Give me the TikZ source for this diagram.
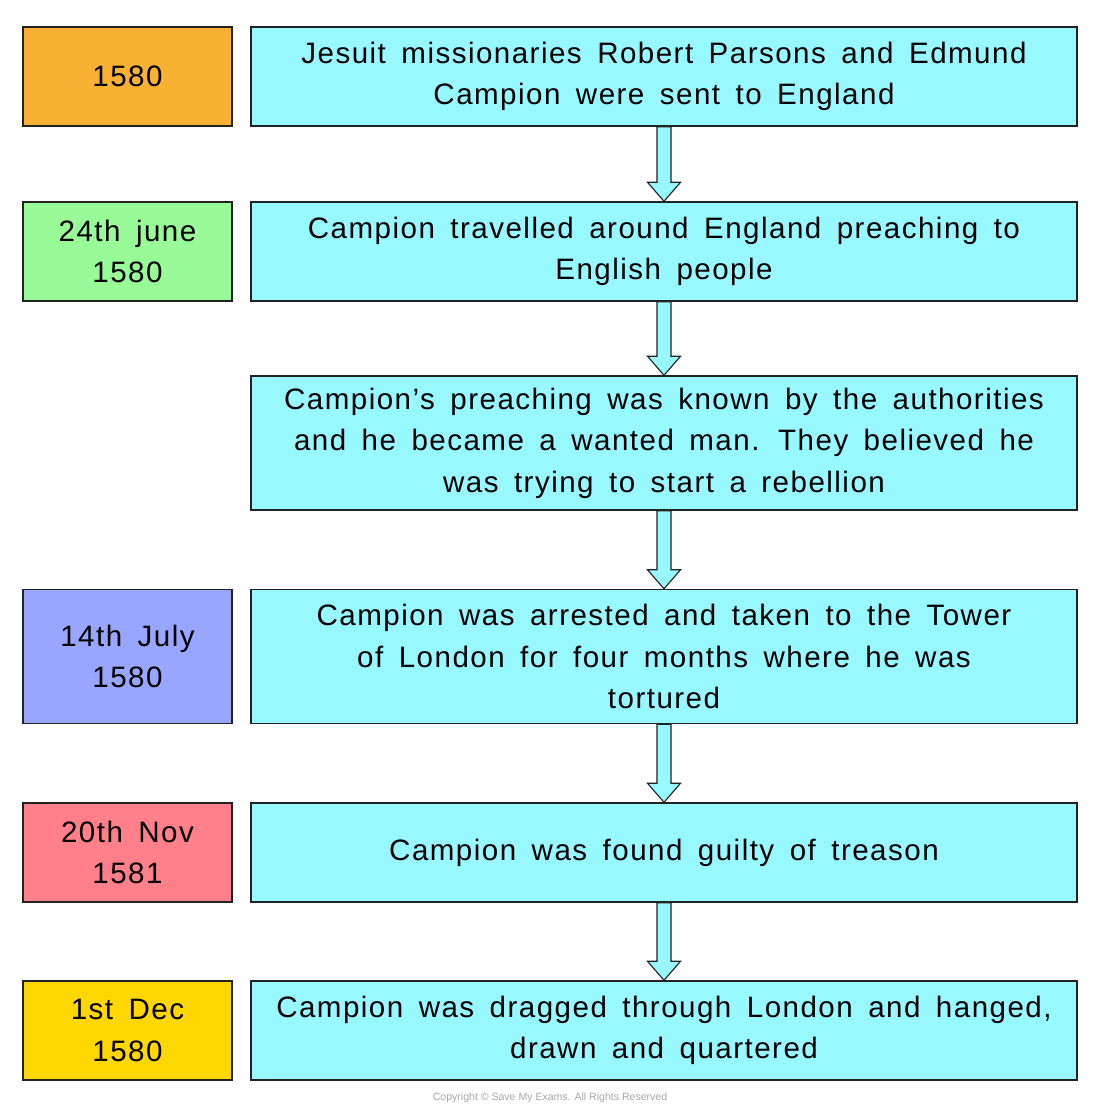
\documentclass[tikz,border=0pt]{standalone}
\usepackage{fontspec}
\setmainfont{Liberation Sans}[LetterSpace=5, WordSpace=1.6]
\newfontfamily\copyfont{Liberation Sans}
\usetikzlibrary{calc}

\definecolor{yearorange}{HTML}{F8B133}
\definecolor{yeargreen}{HTML}{98FB98}
\definecolor{yearblue}{HTML}{98A6FF}
\definecolor{yearpink}{HTML}{FF808B}
\definecolor{yearyellow}{HTML}{FFD700}
\definecolor{eventcyan}{HTML}{98F8FF}
\definecolor{edgegray}{HTML}{222222}

% block arrow from the bottom of one box to the top of the next
\newcommand{\flowdown}[2]{%
    \draw[flowarrow] ($(#1.south)+(-7,0)$) -- ($(#2.north)+(-7,-19)$)
        -- ++(-9.5,0) -- (#2.north) -- ($(#2.north)+(16.5,-19)$)
        -- ++(-9.5,0) -- ($(#1.south)+(7,0)$) -- cycle;%
}

\begin{document}
\begin{tikzpicture}[%
        x = 0.025cm,
        y = -0.025cm,
        line width = 1pt,
        datebox/.style = {%
            draw = edgegray,
            minimum width = 5.225cm,
            minimum height = 2.475cm,
            align = center,
            inner sep = 0pt,
            font = \fontsize{21}{29.5}\selectfont
        },
        eventbox/.style = {%
            draw = edgegray,
            fill = eventcyan,
            minimum width = 20.65cm,
            minimum height = 2.475cm,
            align = center,
            inner sep = 0pt,
            font = \fontsize{21}{29.5}\selectfont
        },
        tallbox/.style = {%
            minimum height = 3.35cm
        },
        flowarrow/.style = {%
            fill = eventcyan,
            draw = edgegray,
            line width = 0.8pt,
            line join = miter
        }
    ]
        \useasboundingbox (0, 0) rectangle (1100, 1115);
        \node[datebox, fill = yearorange] (d1) at (127.5, 76.5) {1580};
        \node[datebox, fill = yeargreen] (d2) at (127.5, 251.5) {24th june\\1580};
        \node[datebox, fill = yearblue, tallbox] (d4) at (127.5, 656.5) {14th July\\1580};
        \node[datebox, fill = yearpink] (d5) at (127.5, 852.5) {20th Nov\\1581};
        \node[datebox, fill = yearyellow] (d6) at (127.5, 1030.5) {1st Dec\\1580};
        \node[eventbox] (e1) at (664, 76.5)
            {Jesuit missionaries Robert Parsons and Edmund\\Campion were sent to England};
        \node[eventbox] (e2) at (664, 251.5)
            {Campion travelled around England preaching to\\English people};
        \node[eventbox, tallbox] (e3) at (664, 443)
            {Campion’s preaching was known by the authorities\\and he became a wanted man. They believed he\\was trying to start a rebellion};
        \node[eventbox, tallbox] (e4) at (664, 656.5)
            {Campion was arrested and taken to the Tower\\of London for four months where he was\\tortured};
        \node[eventbox] (e5) at (664, 852.5)
            {Campion was found guilty of treason};
        \node[eventbox] (e6) at (664, 1030.5)
            {Campion was dragged through London and hanged,\\drawn and quartered};
        \flowdown{e1}{e2}
        \flowdown{e2}{e3}
        \flowdown{e3}{e4}
        \flowdown{e4}{e5}
        \flowdown{e5}{e6}
        \node[text = gray!70, font = \copyfont\fontsize{7.5}{9}\selectfont] (copy) at (550, 1098)
            {Copyright © Save My Exams. All Rights Reserved};
    \end{tikzpicture}
\end{document}
